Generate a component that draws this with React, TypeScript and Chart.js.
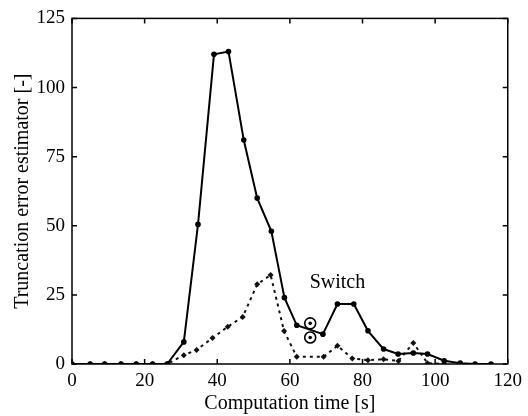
import { useEffect, useRef } from "react";
import { Chart, registerables } from "chart.js";

Chart.register(...registerables);

// Solid line: truncation error estimator (before switch / after switch)
const timeSolid = [0, 5, 9, 13.5, 17.7, 22.2, 26.2, 30.8, 34.7, 39.1, 43.1, 47.3, 51.0, 54.9, 58.5, 61.9, 69.1, 73.1, 77.6, 81.5, 85.8, 89.8, 94.0, 97.9, 102.5, 106.9, 111.0, 115.4];
const errSolid = [0, 0, 0, 0, 0, 0, 0, 8, 50.5, 112, 113, 81, 60, 48, 24, 14, 10.8, 21.7, 21.7, 12, 5.4, 3.6, 4, 3.6, 1.2, 0.3, 0, 0];

// Dotted line: second estimator
const timeDot = [0, 5, 9, 13.5, 17.7, 22.2, 26.2, 30.8, 34.3, 38.7, 42.9, 47.0, 51.0, 54.7, 58.4, 61.9, 69.3, 73.1, 77.2, 81.5, 85.8, 89.9, 94.0, 97.9, 102.5];
const errDot = [0, 0, 0, 0, 0, 0, 0, 3.2, 5.1, 9.4, 13.5, 17, 28.8, 32.2, 11.9, 2.6, 2.6, 6.6, 2.0, 1.4, 1.7, 1.1, 7.6, 0.3, 0];

// Switch markers
const switchTime = [65.6, 65.6];
const switchVal = [14.7, 9.6];
const switchLabel = "Switch";
const switchLabelPos = { x: 73.1, y: 29.3 };

const xTicks = [0, 20, 40, 60, 80, 100, 120];
const yTicks = [0, 25, 50, 75, 100, 125];

const FONT = '"Liberation Serif", "Times New Roman", serif';

export default function App() {
  const ref = useRef<HTMLCanvasElement>(null);

  useEffect(() => {
    const canvas = ref.current;
    if (!canvas) return;

    const framePlugin = {
      id: "frame",
      afterDraw(chart: any) {
        const { ctx, chartArea: a, scales } = chart;
        ctx.save();
        ctx.strokeStyle = "#000";
        ctx.lineWidth = 1.5;
        ctx.strokeRect(a.left, a.top, a.right - a.left, a.bottom - a.top);
        const tl = 5;
        ctx.beginPath();
        xTicks.forEach((v) => {
          const px = scales.x.getPixelForValue(v);
          ctx.moveTo(px, a.bottom);
          ctx.lineTo(px, a.bottom - tl);
          ctx.moveTo(px, a.top);
          ctx.lineTo(px, a.top + tl);
        });
        yTicks.forEach((v) => {
          const py = scales.y.getPixelForValue(v);
          ctx.moveTo(a.left, py);
          ctx.lineTo(a.left + tl, py);
          ctx.moveTo(a.right, py);
          ctx.lineTo(a.right - tl, py);
        });
        ctx.stroke();
        ctx.fillStyle = "#000";
        ctx.font = `20px ${FONT}`;
        ctx.textAlign = "center";
        ctx.textBaseline = "middle";
        ctx.fillText(
          switchLabel,
          scales.x.getPixelForValue(switchLabelPos.x),
          scales.y.getPixelForValue(switchLabelPos.y)
        );
        ctx.restore();
      },
    };

    const chart = new Chart(canvas, {
      type: "scatter",
      data: {
        datasets: [
          {
            label: "dotted",
            data: timeDot.map((t, i) => ({ x: t, y: errDot[i] })),
            showLine: true,
            borderColor: "#111",
            backgroundColor: "#111",
            borderWidth: 2,
            borderDash: [3, 4],
            pointStyle: "rectRot",
            pointRadius: 3,
            pointBorderWidth: 0,
            order: 2,
          },
          {
            label: "solid",
            data: timeSolid.map((t, i) => ({ x: t, y: errSolid[i] })),
            showLine: true,
            borderColor: "#000",
            backgroundColor: "#000",
            borderWidth: 2,
            pointStyle: "circle",
            pointRadius: 2.8,
            pointBorderWidth: 0,
            order: 1,
          },
          {
            label: "switch",
            data: switchTime.map((t, i) => ({ x: t, y: switchVal[i] })),
            showLine: false,
            borderColor: "#000",
            backgroundColor: "#fff",
            pointStyle: "circle",
            pointRadius: 5.5,
            pointBorderWidth: 1.6,
            order: 0,
          },
          {
            label: "switchDot",
            data: switchTime.map((t, i) => ({ x: t, y: switchVal[i] })),
            showLine: false,
            borderColor: "#000",
            backgroundColor: "#000",
            pointStyle: "circle",
            pointRadius: 1.8,
            pointBorderWidth: 0,
            order: -1,
          },
        ],
      },
      options: {
        responsive: false,
        animation: false,
        events: [],
        layout: { padding: { top: 18, right: 16, left: 0, bottom: 0 } },
        plugins: {
          legend: { display: false },
          tooltip: { enabled: false },
        },
        scales: {
          x: {
            type: "linear",
            min: 0,
            max: 120,
            afterFit: (s: any) => {
              s.height = 52;
            },
            grid: { display: false, drawTicks: false },
            border: { display: false },
            ticks: {
              stepSize: 20,
              padding: 6,
              color: "#000",
              font: { family: FONT, size: 19 },
              maxRotation: 0,
            },
            title: {
              display: true,
              text: "Computation time [s]",
              color: "#000",
              font: { family: FONT, size: 20 },
              padding: { top: 0, bottom: 0 },
            },
          },
          y: {
            type: "linear",
            min: 0,
            max: 125,
            afterFit: (s: any) => {
              s.width = 72;
            },
            grid: { display: false, drawTicks: false },
            border: { display: false },
            ticks: {
              stepSize: 25,
              padding: 7,
              color: "#000",
              font: { family: FONT, size: 19 },
            },
            title: {
              display: true,
              text: "Truncation error estimator [-]",
              color: "#000",
              font: { family: FONT, size: 20 },
              padding: { top: 11, bottom: 0 },
            },
          },
        },
      },
      plugins: [framePlugin],
    });

    return () => chart.destroy();
  }, []);

  return (
    <div style={{ position: "fixed", left: 0, top: 0, width: 528, height: 416, background: "#fff" }}>
      <canvas ref={ref} width={528} height={416} style={{ display: "block", width: 528, height: 416 }} />
    </div>
  );
}
